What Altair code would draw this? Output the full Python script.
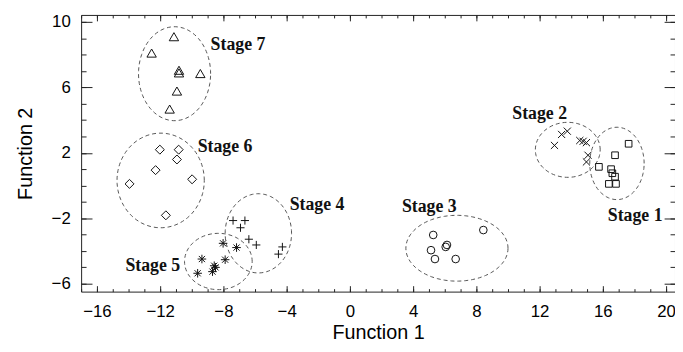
import altair as alt
import numpy as np
import pandas as pd

# ---- data ----
stages = ["Stage 1", "Stage 2", "Stage 3", "Stage 4", "Stage 5", "Stage 6", "Stage 7"]

s1_x = [17.63, 16.77, 15.75, 16.52, 16.77, 16.38, 16.83, 16.6]
s1_y = [2.55, 1.85, 1.14, 1.00, 0.54, 0.10, 0.10, 0.75]

s2_x = [12.94, 13.39, 13.75, 14.54, 14.75, 14.96, 15.06, 14.96]
s2_y = [2.45, 3.12, 3.32, 2.75, 2.70, 2.62, 1.85, 1.44]

s3_x = [5.27, 8.44, 6.14, 6.06, 5.13, 5.38, 6.69]
s3_y = [-3.02, -2.72, -3.63, -3.75, -3.95, -4.49, -4.49]

s4_x = [-7.39, -6.64, -6.92, -6.39, -5.92, -4.27, -4.52]
s4_y = [-2.14, -2.14, -2.58, -3.28, -3.63, -3.75, -4.19]

s5_x = [-8.02, -7.17, -9.36, -7.89, -8.58, -8.50, -8.69, -9.63]
s5_y = [-3.53, -3.79, -4.49, -4.53, -4.90, -5.00, -5.26, -5.36]

s6_x = [-12.02, -10.83, -10.94, -12.29, -13.94, -9.98, -11.64]
s6_y = [2.19, 2.19, 1.59, 0.94, 0.10, 0.38, -1.82]

s7_x = [-11.13, -12.54, -10.81, -10.81, -9.46, -10.94, -11.40]
s7_y = [9.09, 8.09, 7.04, 6.88, 6.84, 5.77, 4.67]

# ellipse (cluster outline) centres and radii
ell_cx = [16.89, 13.78, 6.77, -5.79, -8.32, -11.97, -11.09]
ell_cy = [1.35, 2.18, -3.83, -2.92, -4.64, 0.31, 6.83]
ell_rx = [1.72, 2.05, 3.23, 2.10, 2.14, 2.76, 2.28]
ell_ry = [2.21, 1.68, 2.01, 2.42, 1.72, 2.89, 2.87]

# stage label positions (left edge of text)
lab_x = [16.31, 10.27, 3.29, -3.81, -14.2, -9.63, -8.81]
lab_y = [-1.84, 4.37, -1.29, -1.17, -4.90, 2.35, 8.61]

x_ticks_major = [-16, -12, -8, -4, 0, 4, 8, 12, 16, 20]
y_ticks_major = [-6, -2, 2, 6, 10]
x_ticks_minor = list(range(-17, 21))
y_ticks_minor = list(range(-6, 11))

X_DOM = [-17, 20.5625]
Y_DOM = [-6.48, 10.42]

# ---- tables ----
xs_all = [s1_x, s2_x, s3_x, s4_x, s5_x, s6_x, s7_x]
ys_all = [s1_y, s2_y, s3_y, s4_y, s5_y, s6_y, s7_y]
rows = []
for st, xx, yy in zip(stages, xs_all, ys_all):
    for a, b in zip(xx, yy):
        rows.append({"x": a, "y": b, "stage": st})
pts = pd.DataFrame(rows)

erows = []
t = np.linspace(0, 2 * np.pi, 91)
for st, cx, cy, rx, ry in zip(stages, ell_cx, ell_cy, ell_rx, ell_ry):
    for i, tt in enumerate(t):
        erows.append({"x": cx + rx * np.cos(tt), "y": cy + ry * np.sin(tt), "stage": st, "o": i})
ell = pd.DataFrame(erows)

labs = pd.DataFrame({"x": lab_x, "y": lab_y, "label": stages})

shapes = [
    "square",
    "M-1,-1L1,1M-1,1L1,-1",
    "circle",
    "M-1,0L1,0M0,-1L0,1",
    "M-1,0L1,0M0,-1L0,1M-0.72,-0.72L0.72,0.72M-0.72,0.72L0.72,-0.72",
    "diamond",
    "triangle-up",
]
sizes = [45, 90, 40, 80, 90, 80, 60]

xsc = alt.Scale(domain=X_DOM, nice=False, zero=False)
ysc = alt.Scale(domain=Y_DOM, nice=False, zero=False)

FONT = "Liberation Sans"

ellipses = alt.Chart(ell).mark_line(
    strokeDash=[4, 3], color="#555", strokeWidth=1
).encode(
    x=alt.X("x:Q", scale=xsc, axis=None),
    y=alt.Y("y:Q", scale=ysc, axis=None),
    detail="stage:N",
    order="o:Q",
)

points = alt.Chart(pts).mark_point(filled=False, strokeWidth=1, color="#111", opacity=1).encode(
    x=alt.X("x:Q", scale=xsc, axis=alt.Axis(
        values=x_ticks_major, ticks=False, tickSize=0, domain=False, grid=False,
        labelPadding=12, labelFont=FONT, labelFontSize=17, labelColor="#000",
        title="Function 1", titlePadding=3, titleFont=FONT, titleFontSize=20,
        titleFontWeight="normal", titleColor="#000")),
    y=alt.Y("y:Q", scale=ysc, axis=alt.Axis(
        values=y_ticks_major, ticks=False, tickSize=0, domain=False, grid=False,
        labelPadding=11, labelFont=FONT, labelFontSize=17, labelColor="#000",
        title="Function 2", titlePadding=16, titleFont=FONT, titleFontSize=20,
        titleFontWeight="normal", titleColor="#000")),
    shape=alt.Shape("stage:N", scale=alt.Scale(domain=stages, range=shapes), legend=None),
    size=alt.Size("stage:N", scale=alt.Scale(domain=stages, range=sizes), legend=None),
)

texts = alt.Chart(labs).mark_text(
    align="left", baseline="middle", font="Liberation Serif", fontWeight="bold",
    fontSize=18, color="#111"
).encode(
    x=alt.X("x:Q", scale=xsc, axis=None),
    y=alt.Y("y:Q", scale=ysc, axis=None),
    text="label:N",
)


def tick_layer(xorient, yorient, xvals, yvals, xsize, ysize):
    return alt.Chart(pts).mark_point(opacity=0).encode(
        x=alt.X("x:Q", scale=xsc, axis=alt.Axis(
            orient=xorient, values=xvals, labels=False, domain=False, grid=False,
            tickSize=xsize, offset=-xsize, title=None, tickColor="#222", tickWidth=1)),
        y=alt.Y("y:Q", scale=ysc, axis=alt.Axis(
            orient=yorient, values=yvals, labels=False, domain=False, grid=False,
            tickSize=ysize, offset=-ysize, title=None, tickColor="#222", tickWidth=1)),
    )


t1 = tick_layer("bottom", "left", x_ticks_minor, y_ticks_minor, 3, 5)
t2 = tick_layer("bottom", "left", x_ticks_major, y_ticks_major, 6, 11)
t3 = tick_layer("top", "right", x_ticks_minor, y_ticks_minor, 3, 5)
t4 = tick_layer("top", "right", x_ticks_major, y_ticks_major, 6, 11)

chart = alt.layer(ellipses, points, texts, t1, t2, t3, t4).resolve_axis(
    x="independent", y="independent"
).properties(
    width=601, height=280,
    autosize=alt.AutoSizeParams(type="none"),
    padding={"left": 74, "top": 5, "right": 0, "bottom": 51},
    background="white",
).configure_view(
    stroke="#222", strokeWidth=1
)

chart.save("out.html", embed_options={"renderer": "svg", "actions": False})
